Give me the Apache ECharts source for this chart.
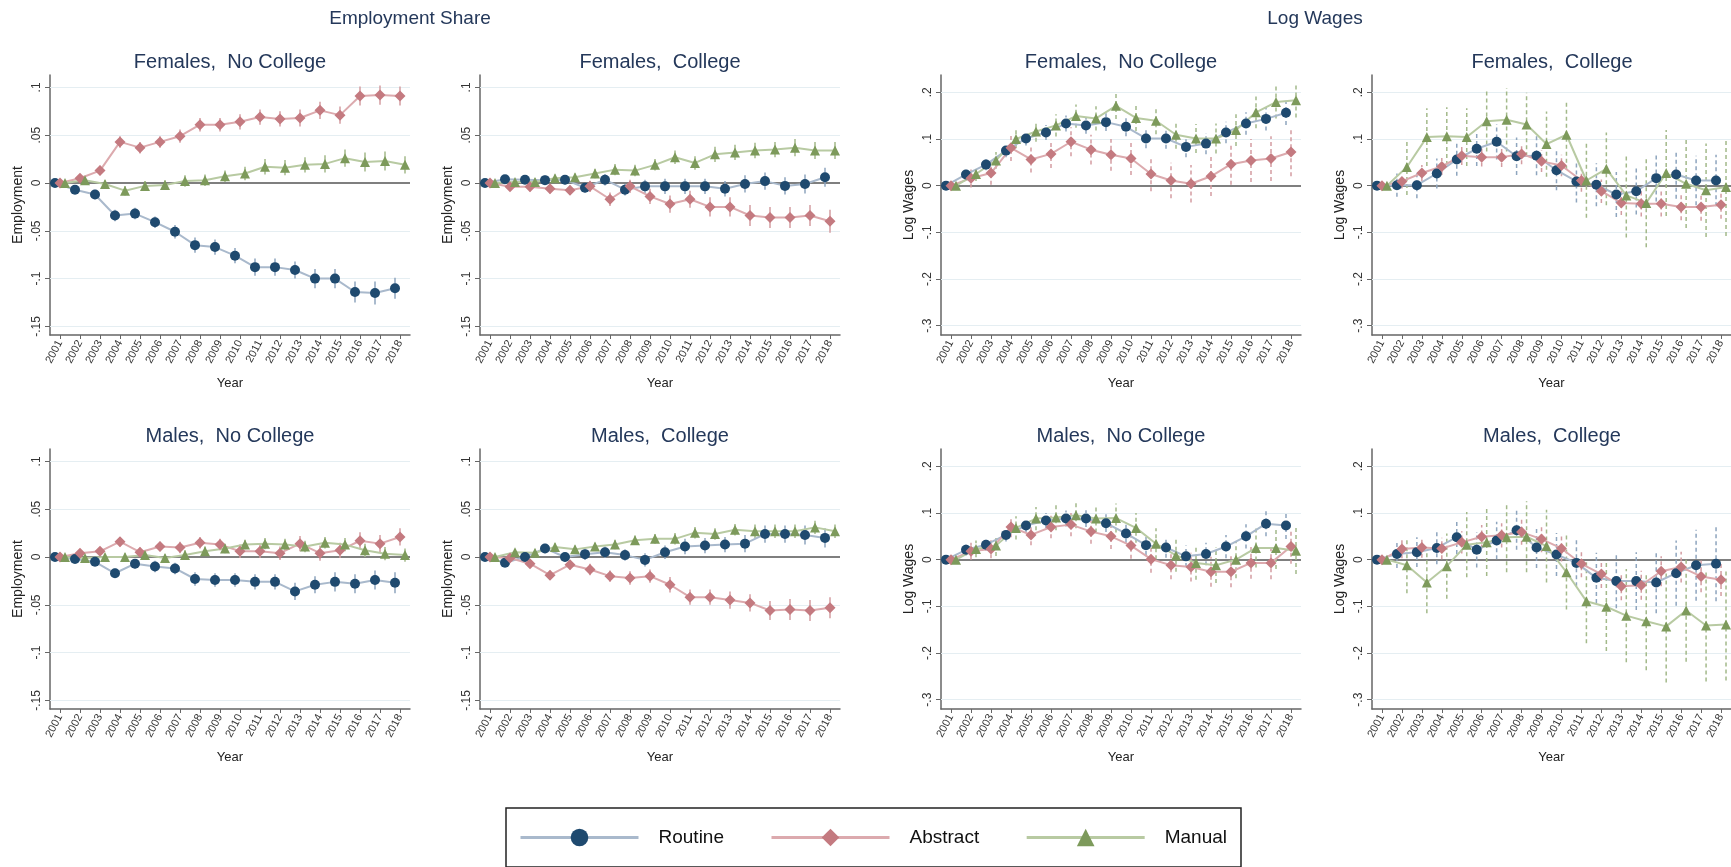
<!DOCTYPE html>
<html>
<head>
<meta charset="utf-8">
<script src="https://cdn.jsdelivr.net/npm/echarts@6/dist/echarts.min.js"></script>
<style>
    html, body { margin: 0; padding: 0; background: #fff; }
    #main { width: 1731px; height: 867px; }
</style>
</head>
<body>
<div id="main"></div>
<script>
var years = [2001,2002,2003,2004,2005,2006,2007,2008,2009,2010,2011,2012,2013,2014,2015,2016,2017,2018];
var groupNames = ['Routine', 'Abstract', 'Manual'];
var empTicks = [-0.15, -0.1, -0.05, 0, 0.05, 0.1];
var empTickLabels = ['-.15', '-.1', '-.05', '0', '.05', '.1'];
var wageTicks = [-0.3, -0.2, -0.1, 0, 0.1, 0.2];
var wageTickLabels = ['-.3', '-.2', '-.1', '0', '.1', '.2'];

// Employment share - Females, No College
var fncEmpRoutine  = [0, -0.007, -0.012, -0.034, -0.032, -0.041, -0.051, -0.065, -0.067, -0.076, -0.088, -0.088, -0.091, -0.100, -0.100, -0.114, -0.115, -0.110];
var fncEmpAbstract = [0, 0.005, 0.013, 0.043, 0.037, 0.043, 0.049, 0.061, 0.061, 0.064, 0.069, 0.067, 0.068, 0.076, 0.071, 0.091, 0.092, 0.091];
var fncEmpManual   = [0, 0.003, -0.001, -0.008, -0.003, -0.002, 0.002, 0.003, 0.007, 0.010, 0.017, 0.016, 0.019, 0.020, 0.026, 0.022, 0.023, 0.019];
var fncEmpRoutineCI  = [0, .004, .005, .006, .006, .006, .007, .008, .008, .008, .009, .009, .009, .010, .010, .011, .012, .011];
var fncEmpAbstractCI = [0, .004, .005, .006, .006, .006, .007, .007, .007, .008, .008, .008, .009, .009, .009, .010, .010, .010];
var fncEmpManualCI   = [0, .003, .004, .005, .005, .005, .006, .006, .006, .007, .008, .008, .008, .009, .009, .010, .010, .009];

// Employment share - Females, College
var fcEmpRoutine  = [0, 0.004, 0.0035, 0.003, 0.0035, -0.005, 0.0035, -0.007, -0.0035, -0.0035, -0.0035, -0.0035, -0.006, -0.001, 0.002, -0.003, -0.001, 0.006];
var fcEmpAbstract = [0, -0.004, -0.004, -0.006, -0.0075, -0.0035, -0.017, -0.0035, -0.014, -0.022, -0.017, -0.025, -0.025, -0.034, -0.036, -0.036, -0.034, -0.040];
var fcEmpManual   = [0, 0.001, 0.001, 0.005, 0.006, 0.010, 0.014, 0.013, 0.019, 0.027, 0.021, 0.030, 0.032, 0.034, 0.035, 0.037, 0.034, 0.034];
var fcEmpRoutineCI  = [0, .004, .004, .005, .005, .005, .006, .006, .007, .008, .008, .008, .008, .009, .009, .009, .010, .010];
var fcEmpAbstractCI = [0, .004, .005, .005, .005, .006, .007, .007, .008, .009, .009, .010, .010, .011, .011, .011, .011, .012];
var fcEmpManualCI   = [0, .003, .004, .004, .004, .005, .006, .006, .006, .007, .007, .008, .008, .008, .008, .009, .009, .009];

// Employment share - Males, No College
var mncEmpRoutine  = [0, -0.002, -0.005, -0.017, -0.007, -0.010, -0.012, -0.023, -0.024, -0.024, -0.026, -0.026, -0.036, -0.029, -0.026, -0.028, -0.024, -0.027];
var mncEmpAbstract = [0, 0.004, 0.006, 0.016, 0.005, 0.011, 0.010, 0.015, 0.013, 0.006, 0.006, 0.004, 0.014, 0.004, 0.007, 0.017, 0.014, 0.021];
var mncEmpManual   = [0, -0.001, 0, 0, 0.002, -0.001, 0.002, 0.006, 0.009, 0.013, 0.014, 0.013, 0.011, 0.015, 0.013, 0.007, 0.0035, 0.002];
var mncEmpRoutineCI  = [0, .003, .004, .005, .005, .006, .006, .007, .007, .007, .008, .008, .009, .009, .010, .010, .010, .011];
var mncEmpAbstractCI = [0, .004, .004, .005, .005, .005, .006, .006, .006, .007, .007, .007, .008, .008, .008, .009, .009, .009];
var mncEmpManualCI   = [0, .003, .003, .004, .004, .004, .005, .005, .005, .005, .006, .006, .006, .006, .007, .007, .007, .007];

// Employment share - Males, College
var mcEmpRoutine  = [0, -0.006, 0, 0.009, 0, 0.003, 0.005, 0.002, -0.003, 0.005, 0.011, 0.012, 0.013, 0.014, 0.024, 0.024, 0.023, 0.020];
var mcEmpAbstract = [0, -0.001, -0.007, -0.019, -0.008, -0.013, -0.020, -0.022, -0.020, -0.029, -0.042, -0.042, -0.045, -0.048, -0.056, -0.055, -0.056, -0.053];
var mcEmpManual   = [0, 0.005, 0.0045, 0.0105, 0.008, 0.011, 0.013, 0.0175, 0.019, 0.019, 0.0255, 0.024, 0.0285, 0.027, 0.027, 0.027, 0.031, 0.027];
var mcEmpRoutineCI  = [0, .004, .004, .005, .005, .006, .006, .006, .007, .007, .008, .008, .008, .009, .009, .009, .010, .010];
var mcEmpAbstractCI = [0, .004, .004, .005, .005, .006, .006, .007, .007, .008, .008, .008, .009, .009, .010, .011, .011, .011];
var mcEmpManualCI   = [0, .003, .003, .004, .004, .004, .005, .005, .005, .006, .006, .006, .006, .007, .007, .007, .007, .007];

// Log wages - Females, No College
var fncWageRoutine  = [0, 0.024, 0.045, 0.075, 0.101, 0.114, 0.133, 0.129, 0.136, 0.126, 0.101, 0.101, 0.083, 0.090, 0.114, 0.133, 0.143, 0.156];
var fncWageAbstract = [0, 0.016, 0.027, 0.081, 0.056, 0.068, 0.094, 0.077, 0.066, 0.058, 0.025, 0.011, 0.004, 0.020, 0.046, 0.054, 0.058, 0.072];
var fncWageManual   = [0, 0.025, 0.054, 0.100, 0.116, 0.129, 0.149, 0.144, 0.171, 0.145, 0.139, 0.109, 0.101, 0.101, 0.119, 0.157, 0.179, 0.183];
var fncWageRoutineCI  = [0, .010, .012, .014, .015, .016, .017, .018, .019, .020, .021, .022, .022, .023, .023, .024, .025, .026];
var fncWageAbstractCI = [0, .020, .025, .028, .028, .030, .031, .032, .034, .035, .037, .038, .040, .042, .044, .046, .048, .052];
var fncWageManualCI   = [0, .015, .018, .020, .022, .024, .025, .026, .028, .028, .029, .030, .031, .032, .034, .034, .035, .037];

// Log wages - Females, College
var fcWageRoutine  = [0, 0.001, 0.001, 0.026, 0.056, 0.079, 0.094, 0.063, 0.064, 0.033, 0.009, 0.002, -0.019, -0.012, 0.016, 0.024, 0.011, 0.011];
var fcWageAbstract = [0, 0.009, 0.027, 0.041, 0.064, 0.061, 0.061, 0.068, 0.052, 0.043, 0.011, -0.012, -0.037, -0.039, -0.039, -0.046, -0.046, -0.041];
var fcWageManual   = [0, 0.040, 0.104, 0.106, 0.104, 0.138, 0.141, 0.131, 0.089, 0.109, 0.011, 0.036, -0.021, -0.037, 0.027, 0.004, -0.010, -0.003];
var fcWageRoutineCI  = [0, .025, .028, .032, .035, .037, .038, .040, .042, .043, .045, .046, .048, .050, .050, .052, .053, .055];
var fcWageAbstractCI = [0, .015, .017, .018, .020, .020, .021, .022, .023, .023, .024, .025, .026, .027, .027, .028, .029, .030];
var fcWageManualCI   = [0, .060, .062, .062, .062, .065, .068, .068, .070, .075, .080, .078, .090, .095, .092, .095, .100, .105];

// Log wages - Males, No College
var mncWageRoutine  = [0, 0.021, 0.032, 0.053, 0.073, 0.084, 0.088, 0.088, 0.078, 0.056, 0.031, 0.026, 0.007, 0.012, 0.028, 0.050, 0.077, 0.073];
var mncWageAbstract = [0, 0.018, 0.023, 0.070, 0.053, 0.070, 0.075, 0.060, 0.050, 0.030, 0.001, -0.012, -0.016, -0.026, -0.026, -0.007, -0.007, 0.028];
var mncWageManual   = [0, 0.023, 0.030, 0.068, 0.088, 0.090, 0.095, 0.088, 0.089, 0.068, 0.034, 0.009, -0.007, -0.012, 0, 0.025, 0.025, 0.019];
var mncWageRoutineCI  = [0, .012, .013, .014, .015, .016, .017, .018, .019, .020, .021, .022, .023, .024, .025, .026, .027, .029];
var mncWageAbstractCI = [0, .018, .020, .022, .022, .024, .025, .026, .027, .028, .029, .030, .031, .032, .033, .034, .035, .037];
var mncWageManualCI   = [0, .018, .022, .025, .025, .027, .028, .030, .031, .032, .033, .035, .036, .038, .040, .042, .045, .050];

// Log wages - Males, College
var mcWageRoutine  = [0, 0.012, 0.016, 0.025, 0.048, 0.021, 0.041, 0.063, 0.026, 0.011, -0.007, -0.039, -0.046, -0.046, -0.049, -0.029, -0.012, -0.009];
var mcWageAbstract = [0, 0.023, 0.026, 0.024, 0.037, 0.049, 0.052, 0.059, 0.044, 0.024, -0.009, -0.031, -0.057, -0.055, -0.025, -0.016, -0.036, -0.043];
var mcWageManual   = [0, -0.012, -0.049, -0.014, 0.032, 0.037, 0.048, 0.049, 0.029, -0.027, -0.089, -0.101, -0.120, -0.132, -0.143, -0.109, -0.141, -0.139];
var mcWageRoutineCI  = [0, .030, .032, .035, .036, .038, .040, .042, .044, .046, .050, .054, .058, .062, .066, .070, .076, .080];
var mcWageAbstractCI = [0, .020, .022, .023, .024, .025, .026, .027, .028, .028, .029, .030, .030, .031, .032, .033, .034, .035];
var mcWageManualCI   = [0, .060, .066, .070, .070, .072, .075, .076, .078, .080, .090, .095, .100, .105, .120, .110, .120, .120];

var FONT = 'Liberation Sans, Arial, Helvetica, sans-serif';

// marker / line / ci look of each group, offset in years
var groupStyle = [
    {symbol: 'circle',   size: 10, marker: '#1f4a6f', line: '#a9b9cc', ci: '#8ea5be', dx: -0.25},
    {symbol: 'diamond',  size: 11, marker: '#c47a80', line: '#dcaaae', ci: '#d39ca1', dx: 0},
    {symbol: 'triangle', size: 10, marker: '#7d9a5b', line: '#b8caa2', ci: '#a3b98a', dx: 0.25}
];

var panels = [
    {title: 'Females,  No College', left: 50,   top: 75,  wage: false, vals: [fncEmpRoutine, fncEmpAbstract, fncEmpManual],    ci: [fncEmpRoutineCI, fncEmpAbstractCI, fncEmpManualCI]},
    {title: 'Females,  College',    left: 480,  top: 75,  wage: false, vals: [fcEmpRoutine, fcEmpAbstract, fcEmpManual],       ci: [fcEmpRoutineCI, fcEmpAbstractCI, fcEmpManualCI]},
    {title: 'Females,  No College', left: 941,  top: 75,  wage: true,  vals: [fncWageRoutine, fncWageAbstract, fncWageManual], ci: [fncWageRoutineCI, fncWageAbstractCI, fncWageManualCI]},
    {title: 'Females,  College',    left: 1372, top: 75,  wage: true,  vals: [fcWageRoutine, fcWageAbstract, fcWageManual],    ci: [fcWageRoutineCI, fcWageAbstractCI, fcWageManualCI]},
    {title: 'Males,  No College',   left: 50,   top: 449, wage: false, vals: [mncEmpRoutine, mncEmpAbstract, mncEmpManual],    ci: [mncEmpRoutineCI, mncEmpAbstractCI, mncEmpManualCI]},
    {title: 'Males,  College',      left: 480,  top: 449, wage: false, vals: [mcEmpRoutine, mcEmpAbstract, mcEmpManual],       ci: [mcEmpRoutineCI, mcEmpAbstractCI, mcEmpManualCI]},
    {title: 'Males,  No College',   left: 941,  top: 449, wage: true,  vals: [mncWageRoutine, mncWageAbstract, mncWageManual], ci: [mncWageRoutineCI, mncWageAbstractCI, mncWageManualCI]},
    {title: 'Males,  College',      left: 1372, top: 449, wage: true,  vals: [mcWageRoutine, mcWageAbstract, mcWageManual],    ci: [mcWageRoutineCI, mcWageAbstractCI, mcWageManualCI]}
];
var PW = 360, PH = 260;

function tickLabel(ticks, labels, v) {
    for (var i = 0; i < ticks.length; i++) {
        if (Math.abs(ticks[i] - v) < 1e-9) return labels[i];
    }
    return '';
}

var grids = [], xAxes = [], yAxes = [], series = [], graphics = [];

panels.forEach(function(p, i) {
    var ticks = p.wage ? wageTicks : empTicks;
    var labels = p.wage ? wageTickLabels : empTickLabels;

    grids.push({left: p.left, top: p.top, width: PW, height: PH, containLabel: false});

    xAxes.push({
        type: 'value', gridIndex: i, min: 2000.5, max: 2018.5,
        name: 'Year', nameLocation: 'middle', nameGap: 42,
        nameTextStyle: {fontSize: 13, color: '#222', fontFamily: FONT},
        axisLine: {show: true, onZero: false, lineStyle: {color: '#666', width: 1.5}},
        axisTick: {show: true, length: 4, customValues: years, lineStyle: {color: '#666'}},
        axisLabel: {customValues: years, rotate: 62, fontSize: 11, color: '#333', margin: 6, fontFamily: FONT,
            formatter: function(v) { return String(Math.round(v)); }},
        splitLine: {show: false}
    });

    yAxes.push({
        type: 'value', gridIndex: i,
        min: p.wage ? -0.32 : -0.159, max: p.wage ? 0.237 : 0.113,
        name: p.wage ? 'Log Wages' : 'Employment', nameLocation: 'middle', nameGap: 25, nameRotate: 90,
        nameTextStyle: {fontSize: 14, color: '#222', fontFamily: FONT},
        axisLine: {show: true, onZero: false, lineStyle: {color: '#666', width: 1.5}},
        axisTick: {show: true, length: 5, customValues: ticks, lineStyle: {color: '#666'}},
        axisLabel: {customValues: ticks, rotate: 90, fontSize: 12, color: '#333', margin: 7, fontFamily: FONT,
            formatter: function(v) { return tickLabel(ticks, labels, v); }},
        splitLine: {show: false}
    });

    // grid lines + zero line
    series.push({
        type: 'line', name: 'grid' + i, xAxisIndex: i, yAxisIndex: i, data: [], z: 1, silent: true,
        markLine: {
            silent: true, symbol: 'none', animation: false, z: 1,
            label: {show: false},
            data: ticks.map(function(t) {
                return {yAxis: t, lineStyle: t === 0 ? {color: '#555', width: 1.5, type: 'solid'} : {color: '#e5eef2', width: 1, type: 'solid'}};
            })
        }
    });

    p.vals.forEach(function(vals, g) {
        var st = groupStyle[g];
        var ciVals = p.ci[g];
        var ciData = [];
        years.forEach(function(yr, k) {
            if (ciVals[k] > 0) ciData.push([yr + st.dx, vals[k] - ciVals[k], vals[k] + ciVals[k]]);
        });
        series.push({
            type: 'custom', name: groupNames[g] + ' CI', xAxisIndex: i, yAxisIndex: i, z: 5, silent: true,
            data: ciData,
            encode: {x: 0, y: [1, 2]},
            renderItem: function(params, api) {
                var a = api.coord([api.value(0), api.value(1)]);
                var b = api.coord([api.value(0), api.value(2)]);
                return {
                    type: 'line',
                    shape: {x1: a[0], y1: a[1], x2: b[0], y2: b[1]},
                    style: {stroke: st.ci, lineWidth: 1.5, lineDash: p.wage ? [4, 3] : null}
                };
            }
        });
        series.push({
            type: 'line', name: groupNames[g], xAxisIndex: i, yAxisIndex: i, z: 10,
            data: years.map(function(yr, k) { return [yr + st.dx, vals[k]]; }),
            symbol: st.symbol, symbolSize: st.size, showAllSymbol: true,
            itemStyle: {color: st.marker},
            lineStyle: {color: st.line, width: 2}
        });
    });

    graphics.push({
        type: 'text', x: p.left + PW / 2, y: p.top - 13, silent: true,
        style: {text: p.title, fill: '#24385a', font: '20px ' + FONT, textAlign: 'center', textVerticalAlign: 'middle', align: 'center', verticalAlign: 'middle'}
    });
});

// section headings
graphics.push({type: 'text', x: 410, y: 19, silent: true,
    style: {text: 'Employment Share', fill: '#24385a', font: '19px ' + FONT, textAlign: 'center', textVerticalAlign: 'middle', align: 'center', verticalAlign: 'middle'}});
graphics.push({type: 'text', x: 1315, y: 19, silent: true,
    style: {text: 'Log Wages', fill: '#24385a', font: '19px ' + FONT, textAlign: 'center', textVerticalAlign: 'middle', align: 'center', verticalAlign: 'middle'}});

var myChart = echarts.init(document.getElementById('main'));
var option = {
    animation: false,
    backgroundColor: '#fff',
    textStyle: {fontFamily: FONT},
    grid: grids,
    xAxis: xAxes,
    yAxis: yAxes,
    legend: {
        data: groupNames,
        left: 506, top: 808,
        orient: 'horizontal',
        itemWidth: 118, itemHeight: 22, itemGap: 46,
        padding: [20, 14, 20, 13],
        borderColor: '#222', borderWidth: 1.5,
        lineStyle: {width: 3},
        textStyle: {fontSize: 19, color: '#111', padding: [0, 0, 0, 15]},
        selectedMode: false
    },
    graphic: graphics,
    series: series
};
myChart.setOption(option);
</script>
</body>
</html>
